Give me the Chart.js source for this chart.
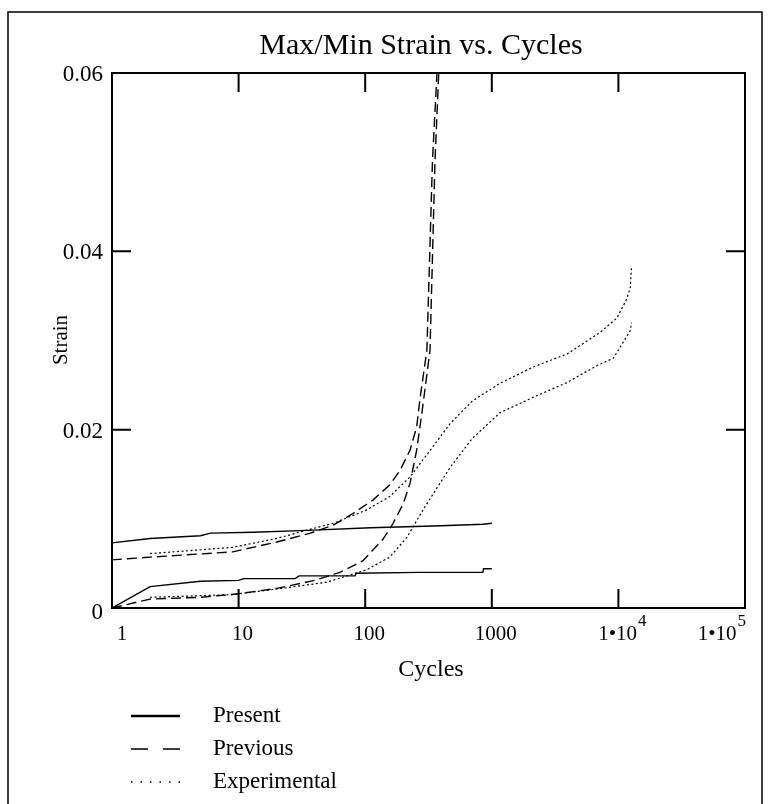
<!DOCTYPE html>
<html lang="en">
<head>
<meta charset="UTF-8">
<title>Max/Min Strain vs. Cycles</title>
<script src="https://cdn.jsdelivr.net/npm/chart.js@4.4.0/dist/chart.umd.min.js"></script>
<style>
    html, body {
        margin: 0;
        padding: 0;
        background: #fff;
    }
    #strainChart {
        display: block;
    }
</style>
</head>
<body>
<canvas id="strainChart" width="770" height="804"></canvas>

<script>
    // cycle counts and strain readings, one pair of arrays per curve
    const presentMaxCycles = [1, 2, 5, 6, 13, 35, 110, 345, 850, 1000];
    const presentMaxStrain = [0.0073, 0.0078, 0.0081, 0.0084, 0.0085, 0.0087, 0.0090, 0.0092, 0.0094, 0.0095];

    const presentMinCycles = [1, 2, 5, 10, 11, 28, 30, 83, 85, 270, 850, 860, 1000];
    const presentMinStrain = [0, 0.0024, 0.0030, 0.0031, 0.0033, 0.0033, 0.0036, 0.0036, 0.0039, 0.0040, 0.0040, 0.0044, 0.0044];

    const previousMaxCycles = [1, 2, 9, 20, 37, 56, 80, 115, 156, 188, 226, 255, 270, 307, 340, 369];
    const previousMaxStrain = [0.0054, 0.0057, 0.0063, 0.0074, 0.0084, 0.0093, 0.0106, 0.0121, 0.0138, 0.0154, 0.0177, 0.0203, 0.0233, 0.0289, 0.0502, 0.06];

    const previousMinCycles = [1, 2, 5, 10, 20, 40, 63, 96, 138, 166, 200, 226, 255, 280, 325, 356, 381];
    const previousMinStrain = [0, 0.0010, 0.0012, 0.0016, 0.0022, 0.0031, 0.0040, 0.0053, 0.0077, 0.0095, 0.0117, 0.0140, 0.0177, 0.0218, 0.0289, 0.0502, 0.06];

    const experimentalMaxCycles = [2, 9, 20, 34, 56, 103, 156, 226, 343, 470, 700, 1160, 2100, 3950, 7150, 9700, 11500, 12400, 12700];
    const experimentalMaxStrain = [0.0061, 0.0068, 0.0078, 0.0087, 0.0095, 0.0110, 0.0125, 0.0147, 0.0181, 0.0207, 0.0232, 0.0252, 0.0270, 0.0285, 0.0309, 0.0325, 0.0345, 0.0359, 0.0383];

    const experimentalMinCycles = [2, 9, 22, 50, 103, 156, 213, 286, 390, 470, 700, 1160, 2100, 3950, 6800, 9100, 10800, 12400, 12700];
    const experimentalMinStrain = [0.0012, 0.0015, 0.0022, 0.0029, 0.0043, 0.0057, 0.0079, 0.0110, 0.0140, 0.0158, 0.0190, 0.0219, 0.0236, 0.0253, 0.0272, 0.0280, 0.0297, 0.0311, 0.0320];

    // axis ticks
    const xTickValues = [1, 10, 100, 1000, 1e4, 1e5];
    const xTickLabels = [['1', ''], ['10', ''], ['100', ''], ['1000', ''], ['1\u202210', '4'], ['1\u202210', '5']];
    const yTickValues = [0, 0.02, 0.04, 0.06];
    const yTickLabels = ['0', '0.02', '0.04', '0.06'];

    const legendNames = ['Present', 'Previous', 'Experimental'];

    const SERIF = '"Liberation Serif", "DejaVu Serif", serif';
    const styles = {
        Present: { dash: [], width: 1.4 },
        Previous: { dash: [10, 5], width: 1.4 },
        Experimental: { dash: [2, 2.5], width: 1.2 }
    };

    function toPoints(xs, ys) {
        return xs.map((x, i) => ({ x: x, y: ys[i] }));
    }

    function curve(name, xs, ys) {
        return {
            label: name,
            data: toPoints(xs, ys),
            showLine: true,
            fill: false,
            borderColor: '#000',
            borderWidth: styles[name].width,
            borderDash: styles[name].dash,
            pointRadius: 0,
            tension: 0
        };
    }

    const datasets = [
        curve('Present', presentMaxCycles, presentMaxStrain),
        curve('Present', presentMinCycles, presentMinStrain),
        curve('Previous', previousMaxCycles, previousMaxStrain),
        curve('Previous', previousMinCycles, previousMinStrain),
        curve('Experimental', experimentalMaxCycles, experimentalMaxStrain),
        curve('Experimental', experimentalMinCycles, experimentalMinStrain)
    ];

    // frame, inward ticks, labels and legend in the old plotting-package look
    const decorations = {
        id: 'decorations',
        afterDraw(chart) {
            const c = chart.ctx;
            const area = chart.chartArea;
            const xs = chart.scales.x;
            const ys = chart.scales.y;
            c.save();
            c.strokeStyle = '#000';
            c.fillStyle = '#000';

            // outer border of the figure
            c.lineWidth = 1.5;
            c.strokeRect(8, 12, 754, 800);

            // plot frame
            c.lineWidth = 2;
            c.strokeRect(area.left, area.top, area.right - area.left, area.bottom - area.top);

            // inward ticks on all four sides
            const tickLen = 19;
            c.beginPath();
            xTickValues.forEach(v => {
                const px = xs.getPixelForValue(v);
                if (px <= area.left + 1 || px >= area.right - 1) return;
                c.moveTo(px, area.bottom); c.lineTo(px, area.bottom - tickLen);
                c.moveTo(px, area.top); c.lineTo(px, area.top + tickLen);
            });
            yTickValues.forEach(v => {
                const py = ys.getPixelForValue(v);
                if (py >= area.bottom - 1 || py <= area.top + 1) return;
                c.moveTo(area.left, py); c.lineTo(area.left + tickLen, py);
                c.moveTo(area.right, py); c.lineTo(area.right - tickLen, py);
            });
            c.stroke();

            // y tick labels
            c.font = '23px ' + SERIF;
            c.textAlign = 'right';
            c.textBaseline = 'middle';
            yTickValues.forEach((v, i) => {
                let py = ys.getPixelForValue(v) + 2;
                if (v === 0) py += 3;
                c.fillText(yTickLabels[i], area.left - 9, py);
            });

            // x tick labels, with raised exponents
            xTickValues.forEach((v, i) => {
                const [base, exp] = xTickLabels[i];
                c.font = '21px ' + SERIF;
                const wBase = c.measureText(base).width;
                c.font = '17px ' + SERIF;
                const wExp = exp ? c.measureText(exp).width + 1 : 0;
                const total = wBase + wExp;
                let left = xs.getPixelForValue(v) + 4 - total / 2;
                if (i === 0) left += 6;
                if (left + total > area.right + 1) left = area.right + 1 - total;
                c.textAlign = 'left';
                c.font = '21px ' + SERIF;
                c.fillText(base, left, area.bottom + 26);
                if (exp) {
                    c.font = '17px ' + SERIF;
                    c.fillText(exp, left + wBase + 1, area.bottom + 14);
                }
            });

            // chart title
            c.textAlign = 'center';
            c.font = '30px ' + SERIF;
            c.fillText('Max/Min Strain vs. Cycles', 421, 46);

            // axis titles
            c.font = '24px ' + SERIF;
            c.fillText('Cycles', 431, 670);
            c.save();
            c.translate(61, 340);
            c.rotate(-Math.PI / 2);
            c.font = '21px ' + SERIF;
            c.fillText('Strain', 0, 0);
            c.restore();

            // legend
            c.textAlign = 'left';
            c.font = '23px ' + SERIF;
            legendNames.forEach((name, i) => {
                const y = 716 + i * 33;
                c.beginPath();
                c.lineWidth = name === 'Present' ? 2.5 : 1.3;
                if (name === 'Previous') c.setLineDash([17, 15]);
                else if (name === 'Experimental') c.setLineDash([1.5, 8]);
                else c.setLineDash([]);
                c.moveTo(131, y);
                c.lineTo(180, y);
                c.stroke();
                c.setLineDash([]);
                c.fillText(name, 213, y);
            });
            c.restore();
        }
    };

    const ctx = document.getElementById('strainChart').getContext('2d');
    const chart = new Chart(ctx, {
        type: 'scatter',
        data: { datasets: datasets },
        options: {
            responsive: false,
            animation: false,
            layout: {
                padding: { left: 112, right: 25, top: 73, bottom: 196 }
            },
            plugins: {
                legend: { display: false },
                tooltip: { enabled: false }
            },
            scales: {
                x: {
                    type: 'logarithmic',
                    min: 1,
                    max: 1e5,
                    ticks: { display: false },
                    grid: { display: false, drawTicks: false },
                    border: { display: false }
                },
                y: {
                    min: 0,
                    max: 0.06,
                    ticks: { display: false },
                    grid: { display: false, drawTicks: false },
                    border: { display: false }
                }
            }
        },
        plugins: [decorations]
    });
</script>
</body>
</html>
